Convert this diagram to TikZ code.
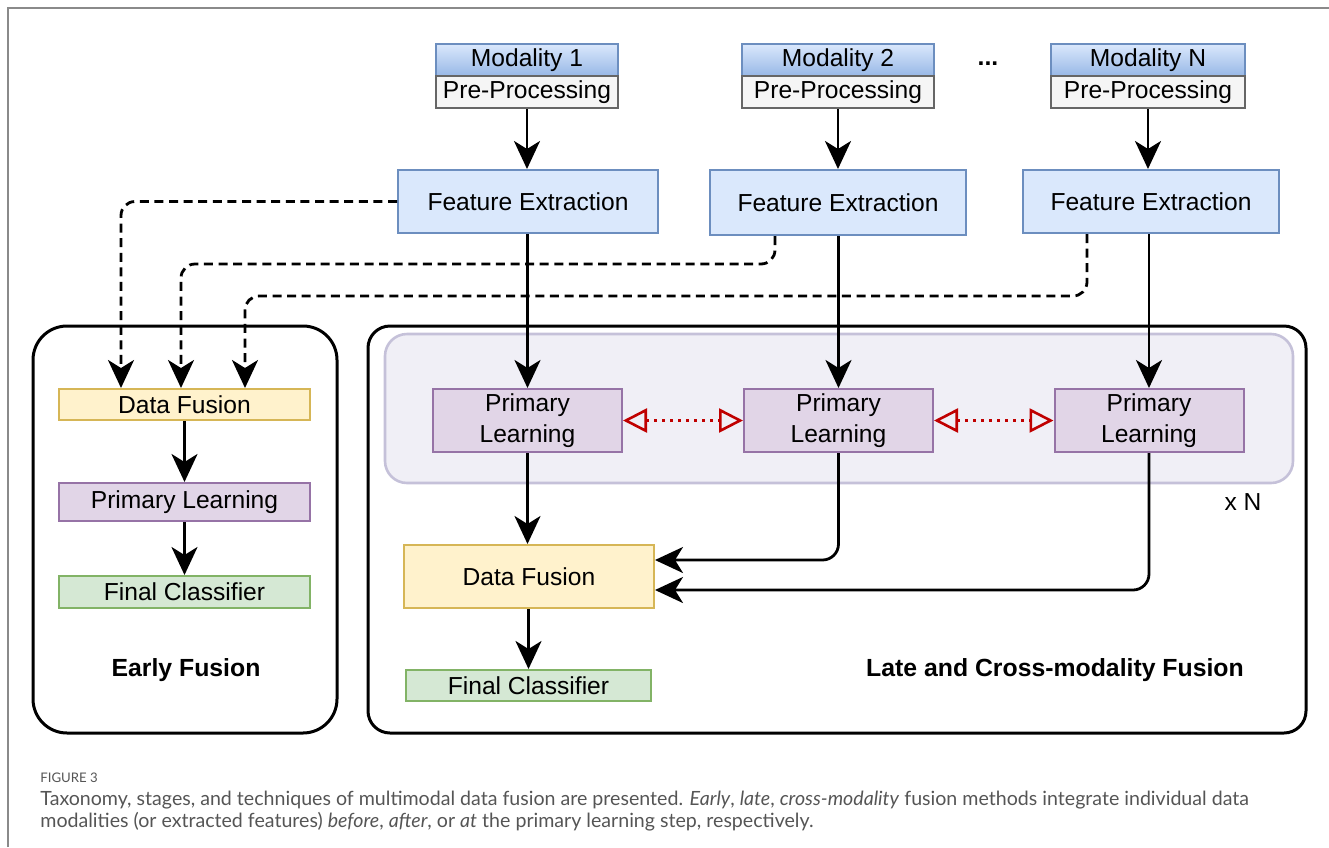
\documentclass[tikz,border=0pt]{standalone}
\usepackage{fontspec}
\setmainfont{Liberation Sans}
\newfontfamily\capfont{Lato}
\usetikzlibrary{arrows.meta,calc}
\definecolor{bluefill}{HTML}{DAE8FC}
\definecolor{bluedark}{HTML}{7EA6E0}
\definecolor{bluestroke}{HTML}{6C8EBF}
\definecolor{grayfill}{HTML}{F5F5F5}
\definecolor{graystroke}{HTML}{666666}
\definecolor{purpfill}{HTML}{E1D5E7}
\definecolor{purpstroke}{HTML}{9673A6}
\definecolor{yelfill}{HTML}{FFF2CC}
\definecolor{yelstroke}{HTML}{D6B656}
\definecolor{grnfill}{HTML}{D5E8D4}
\definecolor{grnstroke}{HTML}{82B366}
\definecolor{lavfill}{HTML}{F0EFF6}
\definecolor{lavstroke}{HTML}{C5C1D9}
\definecolor{redarrow}{HTML}{C00000}
\definecolor{captxt}{HTML}{555555}
\definecolor{framegray}{HTML}{8A8A8A}
\tikzset{
  x=0.5pt, y=-0.5pt,
  box/.style={rectangle, inner sep=0pt, line width=1pt, font=\fontsize{12.3}{15.5}\selectfont, align=center},
  modbox/.style={box, draw=bluestroke, top color=bluefill, bottom color=bluedark!80, minimum height=16pt},
  prebox/.style={box, draw=graystroke, fill=grayfill, line width=1.2pt, minimum height=16pt},
  febox/.style={box, draw=bluestroke, fill=bluefill},
  plbox/.style={box, draw=purpstroke, fill=purpfill},
  dfbox/.style={box, draw=yelstroke, fill=yelfill},
  fcbox/.style={box, draw=grnstroke, fill=grnfill},
  conn/.style={line width=1.4pt, -{Stealth[length=14pt,width=13pt,inset=4pt]}},
  dashconn/.style={conn, dash pattern=on 4.5pt off 2.8pt, rounded corners=7pt},
  crossconn/.style={line width=1.3pt, redarrow, dash pattern=on 1.4pt off 2.6pt,
     {Triangle[open,length=12pt,width=12pt,line width=1.3pt]}-{Triangle[open,length=12pt,width=12pt,line width=1.3pt]}},
  lbl/.style={font=\fontsize{12.4}{15}\selectfont\bfseries},
}
\begin{document}
\begin{tikzpicture}
\useasboundingbox (0,0) rectangle (1329,847);
% frame
\draw[framegray, line width=1pt] (7.5,847) -- (7.5,7.5) -- (1329,7.5);

% group boxes
\draw[line width=1.5pt, rounded corners=17pt] (33,326) rectangle (337,733);
\draw[line width=1.5pt, rounded corners=11pt] (368,326) rectangle (1306,733);
\draw[lavstroke, fill=lavfill, line width=1.3pt, rounded corners=11pt] (385,334) rectangle (1293,483);

% modalities
\node[modbox, minimum width=91pt] (m1) at (527,60) {Modality 1};
\node[prebox, minimum width=91pt] (p1) at (527,92) {Pre-Processing};
\node[modbox, minimum width=96pt] (m2) at (838,60) {Modality 2};
\node[prebox, minimum width=96pt] (p2) at (838,92) {Pre-Processing};
\node[modbox, minimum width=97pt] (m3) at (1148,60) {Modality N};
\node[prebox, minimum width=97pt] (p3) at (1148,92) {Pre-Processing};
\node[lbl] (dots) at (988,64) {...};

% feature extraction
\node[febox, minimum width=130pt, minimum height=31.5pt] (fe1) at (528,201.5) {Feature Extraction};
\node[febox, minimum width=128pt, minimum height=32.5pt] (fe2) at (838,202.5) {Feature Extraction};
\node[febox, minimum width=128pt, minimum height=31.5pt] (fe3) at (1151,201.5) {Feature Extraction};

% late primary learning
\node[plbox, minimum width=94.5pt, minimum height=31.5pt] (pl1) at (527.5,420.5) {Primary\\Learning};
\node[plbox, minimum width=94.5pt, minimum height=31.5pt] (pl2) at (838.5,420.5) {Primary\\Learning};
\node[plbox, minimum width=94.5pt, minimum height=31.5pt] (pl3) at (1149,420.5) {Primary\\Learning};
\node[font=\fontsize{12.3}{15}\selectfont] (xn) at (1243,502) {x N};

% late fusion
\node[dfbox, minimum width=125pt, minimum height=31.5pt] (ldf) at (529,576.5) {Data Fusion};
\node[fcbox, minimum width=122.5pt, minimum height=15.5pt] (lfc) at (528.5,685.5) {Final Classifier};
\node[lbl] (latelbl) at (1055,670) {Late and Cross-modality Fusion};

% early fusion
\node[dfbox, minimum width=125.5pt, minimum height=15.5pt] (edf) at (184.5,404.5) {Data Fusion};
\node[plbox, minimum width=125.5pt, minimum height=19pt] (epl) at (184.5,502) {Primary Learning};
\node[fcbox, minimum width=125.5pt, minimum height=16pt] (efc) at (184.5,592) {Final Classifier};
\node[lbl] (earlylbl) at (186,670) {Early Fusion};

% connectors
\draw[conn] (p1.south) -- (fe1.north -| p1.south);
\draw[conn] (p2.south) -- (fe2.north -| p2.south);
\draw[conn] (p3.south) -- (fe3.north -| p3.south);
\draw[conn] (fe1.south -| pl1.north) -- (pl1.north);
\draw[conn] (fe2.south -| pl2.north) -- (pl2.north);
\draw[conn] (fe3.south -| pl3.north) -- (pl3.north);
\draw[conn] (pl1.south) -- (ldf.north -| pl1.south);
\draw[conn, rounded corners=8pt] (pl2.south) |- ([yshift=8.25pt]ldf.east);
\draw[conn, rounded corners=8pt] (pl3.south) |- ([yshift=-6.75pt]ldf.east);
\draw[conn] (ldf.south -| lfc.north) -- (lfc.north);
\draw[conn] (edf.south) -- (epl.north);
\draw[conn] (epl.south) -- (efc.north);
\draw[crossconn] (pl1.east) -- (pl2.west);
\draw[crossconn] (pl2.east) -- (pl3.west);

% dashed early connectors
\draw[dashconn] (fe1.west) -| ([xshift=31.5pt]edf.north west);
\draw[dashconn] ([xshift=33pt]fe2.south west) -- ++(0,28) -| ([xshift=61.5pt]edf.north west);
\draw[dashconn] ([xshift=32.5pt]fe3.south west) -- ++(0,62) -| ([xshift=93.5pt]edf.north west);

% caption
\node[anchor=base west, inner sep=0pt, captxt, font=\capfont\fontsize{6.6}{8}\selectfont] (figlbl) at (40,782) {FIGURE 3};
\node[anchor=base west, inner sep=0pt, captxt, font=\capfont\fontsize{9.8}{11}\selectfont] (cap1) at (40,805) {Taxonomy, stages, and techniques of multimodal data fusion are presented. \textit{Early}, \textit{late}, \textit{cross-modality} fusion methods integrate individual data};
\node[anchor=base west, inner sep=0pt, captxt, font=\capfont\fontsize{9.8}{11}\selectfont] (cap2) at (40,827) {modalities (or extracted features) \textit{before}, \textit{after}, or \textit{at} the primary learning step, respectively.};
\end{tikzpicture}
\end{document}
